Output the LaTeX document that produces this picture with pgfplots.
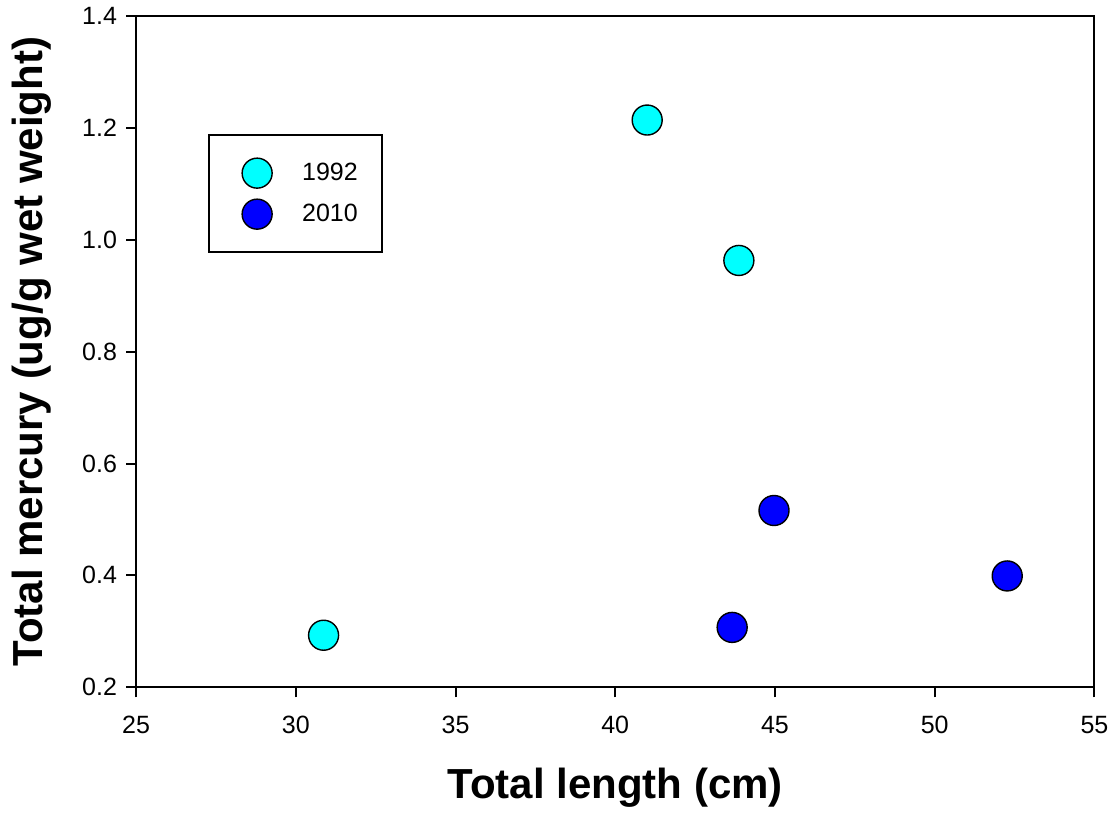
\documentclass[border=0pt]{standalone}
\usepackage{pgfplots}
\pgfplotsset{compat=1.18}
\usepackage{fontspec}
\setmainfont{Liberation Sans}
\definecolor{cy}{RGB}{0,255,255}
\definecolor{bl}{RGB}{0,0,255}
\begin{document}
\begin{tikzpicture}
\begin{axis}[
  scale only axis,
  width=479pt, height=335.5pt,
  xmin=25, xmax=55, ymin=0.2, ymax=1.4,
  xtick={25,30,...,55},
  ytick={0.2,0.4,...,1.4},
  tick align=outside,
  tick pos=left,
  major tick length=5pt,
  axis line style={line width=1pt},
  every tick/.style={line width=1pt, black},
  /pgf/number format/assume math mode=true,
  tick label style={font=\fontsize{12.5}{15}\selectfont},
  yticklabel style={xshift=-1pt, /pgf/number format/.cd,fixed,fixed zerofill,precision=1},
  xticklabel style={yshift=-6pt},
  xlabel={Total length (cm)},
  ylabel={Total mercury (ug/g wet weight)},
  label style={font=\fontsize{21}{25}\selectfont\bfseries},
  xlabel style={yshift=-10pt},
  ylabel style={yshift=8.5pt},
  legend style={draw=black, line width=1pt, at={(0.0752,0.824)}, anchor=north west,
    inner xsep=12pt, inner ysep=11pt, row sep=4.5pt, column sep=10.5pt,
    font=\fontsize{12.5}{15}\selectfont,
    nodes={inner sep=0pt}, cells={anchor=west}},
  legend image code/.code={\path[draw=none] (0pt,-8pt) rectangle (24pt,8pt); \draw[#1] plot coordinates {(12pt,0pt)};},
]
\addplot[only marks, mark=*, mark size=7.5pt, mark options={fill=cy, draw=black, line width=0.7pt}]
  coordinates {(41.0,1.214) (43.87,0.963) (30.87,0.293)};
\addlegendentry{1992}
\addplot[only marks, mark=*, mark size=7.5pt, mark options={fill=bl, draw=black, line width=0.7pt}]
  coordinates {(44.97,0.516) (52.27,0.399) (43.66,0.307)};
\addlegendentry{2010}
\end{axis}
\path ([xshift=-68pt,yshift=-64.5pt]current axis.south west) rectangle ([xshift=10pt,yshift=8pt]current axis.north east);
\end{tikzpicture}
\end{document}
